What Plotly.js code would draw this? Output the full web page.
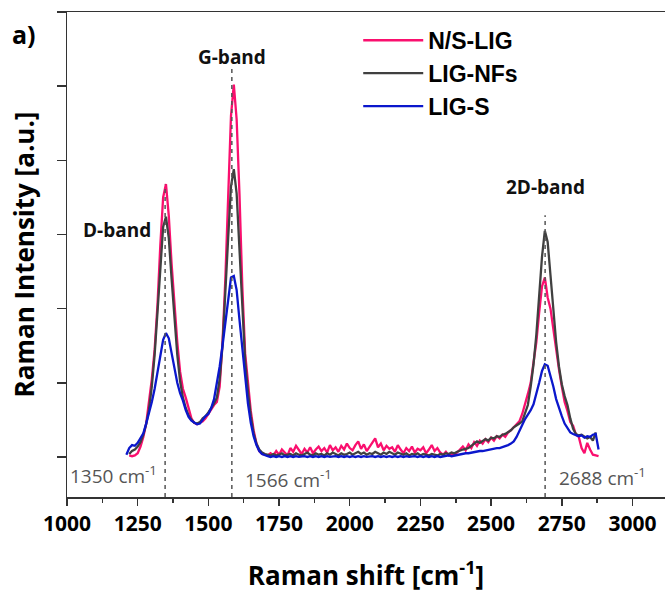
<!DOCTYPE html>
<html>
<head>
<meta charset="utf-8">
<script src="https://cdn.plot.ly/plotly-3.0.1.min.js"></script>
<style>html,body{margin:0;padding:0;background:#fff;}#chart{width:665px;height:594px;}</style>
</head>
<body>
<div id="chart"></div>
<script>
// Raman shift grid [cm-1]
const ramanShift = [
  1200,1210,1220,1230,1240,1250,1260,1270,1280,1290,
  1300,1310,1320,1330,1340,1350,1360,1370,1380,1390,
  1400,1410,1420,1430,1440,1450,1460,1470,1480,1490,
  1500,1510,1520,1530,1540,1550,1560,1570,1580,1590,
  1600,1610,1620,1630,1640,1650,1660,1670,1680,1690,
  1700,1710,1720,1730,1740,1750,1760,1770,1780,1790,
  1800,1810,1820,1830,1840,1850,1860,1870,1880,1890,
  1900,1910,1920,1930,1940,1950,1960,1970,1980,1990,
  2000,2010,2020,2030,2040,2050,2060,2070,2080,2090,
  2100,2110,2120,2130,2140,2150,2160,2170,2180,2190,
  2200,2210,2220,2230,2240,2250,2260,2270,2280,2290,
  2300,2310,2320,2330,2340,2350,2360,2370,2380,2390,
  2400,2410,2420,2430,2440,2450,2460,2470,2480,2490,
  2500,2510,2520,2530,2540,2550,2560,2570,2580,2590,
  2600,2610,2620,2630,2640,2650,2660,2670,2680,2690,
  2700,2710,2720,2730,2740,2750,2760,2770,2780,2790,
  2800,2810,2820,2830,2840,2850,2860,2870,2880
];

// N/S-LIG intensity [a.u.]
const nsLIG = [
  null,null,0.02,0.01,0.02,0.05,0.14,0.27,0.45,0.72,
  1.05,1.45,2.05,2.85,3.50,3.68,3.25,2.60,2.05,1.55,
  1.15,0.92,0.80,0.64,0.52,0.46,0.44,0.46,0.48,0.52,
  0.58,0.64,0.70,0.74,0.95,1.55,2.40,3.50,4.60,5.02,
  4.55,3.55,2.30,1.40,0.95,0.62,0.36,0.18,0.08,0.04,
  0.03,0.02,0.05,0.02,0.08,0.03,0.10,0.06,0.02,0.12,
  0.07,0.15,0.09,0.04,0.11,0.06,0.13,0.05,0.10,0.14,
  0.08,0.12,0.06,0.16,0.09,0.13,0.07,0.15,0.10,0.18,
  0.12,0.09,0.16,0.21,0.11,0.17,0.08,0.14,0.19,0.25,
  0.13,0.18,0.09,0.15,0.11,0.13,0.07,0.16,0.10,0.05,
  0.12,0.08,0.14,0.06,0.11,0.09,0.13,0.05,0.10,0.16,
  0.08,0.12,0.06,0.03,0.07,0.02,0.04,0.03,0.06,0.10,
  0.14,0.09,0.17,0.12,0.20,0.15,0.22,0.18,0.24,0.20,
  0.26,0.22,0.28,0.25,0.30,0.27,0.33,0.36,0.40,0.44,
  0.48,0.58,0.70,0.85,1.00,1.25,1.55,1.95,2.30,2.42,
  2.15,2.00,1.70,1.45,1.18,0.95,0.74,0.62,0.47,0.42,
  0.30,0.27,0.12,0.05,0.19,0.10,0.03,0.02,0.01
];

// LIG-NFs intensity [a.u.]
const ligNFs = [
  null,null,0.04,0.08,0.10,0.14,0.20,0.30,0.44,0.64,
  0.95,1.38,1.95,2.60,3.10,3.24,2.95,2.40,1.85,1.38,
  1.02,0.80,0.66,0.56,0.50,0.46,0.45,0.47,0.52,0.55,
  0.60,0.66,0.72,0.80,1.05,1.50,2.15,2.95,3.65,3.88,
  3.55,2.80,1.95,1.30,0.88,0.55,0.32,0.18,0.10,0.06,
  0.04,0.03,0.02,0.04,0.02,0.03,0.05,0.02,0.03,0.04,
  0.02,0.05,0.03,0.02,0.04,0.06,0.03,0.02,0.05,0.03,
  0.04,0.02,0.05,0.03,0.06,0.04,0.02,0.05,0.03,0.04,
  0.06,0.03,0.05,0.07,0.04,0.06,0.03,0.05,0.04,0.07,
  0.05,0.03,0.06,0.04,0.07,0.05,0.03,0.06,0.04,0.03,
  0.05,0.02,0.04,0.03,0.05,0.02,0.04,0.03,0.02,0.04,
  0.03,0.02,0.04,0.03,0.05,0.04,0.06,0.05,0.07,0.09,
  0.10,0.11,0.12,0.15,0.18,0.21,0.19,0.22,0.24,0.22,
  0.26,0.25,0.28,0.27,0.30,0.31,0.33,0.36,0.40,0.42,
  0.45,0.48,0.58,0.70,0.95,1.25,1.65,2.15,2.70,3.05,
  2.90,2.45,1.95,1.55,1.22,0.98,0.82,0.70,0.52,0.38,
  0.31,0.29,0.30,0.27,0.25,0.27,0.22,0.33,null
];

// LIG-S intensity [a.u.]
const ligS = [
  null,0.03,0.12,0.16,0.15,0.19,0.25,0.32,0.45,0.58,
  0.74,0.92,1.14,1.38,1.58,1.67,1.60,1.40,1.18,1.00,
  0.86,0.76,0.63,0.54,0.49,0.46,0.44,0.45,0.50,0.55,
  0.58,0.66,0.78,0.98,1.22,1.50,1.82,2.18,2.42,2.44,
  2.25,1.85,1.45,1.05,0.72,0.46,0.28,0.16,0.08,0.04,
  0.02,0.01,0.00,0.01,0.00,0.01,0.00,0.01,0.00,0.01,
  0.00,0.01,0.00,0.01,0.01,0.00,0.01,0.00,0.01,0.00,
  0.01,0.00,0.01,0.00,0.01,0.01,0.00,0.01,0.00,0.01,
  0.00,0.01,0.00,0.01,0.00,0.01,0.00,0.01,0.01,0.00,
  0.01,0.00,0.01,0.00,0.01,0.00,0.01,0.00,0.01,0.00,
  0.01,0.00,0.01,0.01,0.00,0.01,0.00,0.01,0.00,0.01,
  0.00,0.01,0.00,0.01,0.01,0.02,0.01,0.02,0.03,0.03,
  0.04,0.05,0.05,0.06,0.06,0.07,0.08,0.08,0.09,0.09,
  0.10,0.11,0.12,0.12,0.13,0.15,0.16,0.18,0.21,0.27,
  0.35,0.44,0.51,0.57,0.63,0.71,0.84,1.00,1.16,1.25,
  1.23,1.10,0.95,0.78,0.65,0.55,0.45,0.38,0.33,0.31,
  0.30,0.28,0.29,0.26,0.28,0.27,0.30,0.31,0.10
];

// Band marker positions (dashed lines) and their label texts
const bandNames = ["D-band", "G-band", "2D-band"];
const bandPositions = [1347, 1583, 2691];
const bandLineTops = [3.67, 5.24, 3.26];
const bandShiftLabels = ["1350 cm<sup>-1</sup>", "1566 cm<sup>-1</sup>", "2688 cm<sup>-1</sup>"];
const bandShiftLabelX = [1003, 1622, 2733];
const bandShiftLabelY = [-0.25, -0.30, -0.27];
const bandNameX = [1177, 1583, 2691];
const bandNameY = [3.06, 5.39, 3.64];

const seriesNames = ["N/S-LIG", "LIG-NFs", "LIG-S"];
const seriesColors = ["#fa0f6e", "#404040", "#0b17cc"];
const seriesValues = [nsLIG, ligNFs, ligS];

const yBottom = -0.54, yTop = 6.0;

const traces = seriesValues.map((vals, i) => ({
  x: ramanShift, y: vals, type: "scatter", mode: "lines",
  name: seriesNames[i],
  line: {color: seriesColors[i], width: 2.3},
  connectgaps: false
}));

bandPositions.forEach((p, i) => {
  traces.push({
    x: [p, p], y: [yBottom, bandLineTops[i]], type: "scatter", mode: "lines",
    showlegend: false, hoverinfo: "skip",
    line: {color: "#555555", width: 1.5, dash: "4px,4px"}
  });
});

const annotations = [];
bandNames.forEach((n, i) => {
  annotations.push({
    x: bandNameX[i], y: bandNameY[i], xref: "x", yref: "y",
    text: n, showarrow: false, xanchor: "center", yanchor: "middle",
    font: {family: "Open Sans", size: 19, weight: "bold", color: "#111"}
  });
  annotations.push({
    x: bandShiftLabelX[i], y: bandShiftLabelY[i], xref: "x", yref: "y",
    text: bandShiftLabels[i], showarrow: false, xanchor: "left", yanchor: "middle",
    font: {family: "Open Sans", size: 19, color: "#555555"}
  });
});
annotations.push({
  x: -0.072, y: 0.955, xref: "paper", yref: "paper", text: "a)",
  showarrow: false, xanchor: "center", yanchor: "middle",
  font: {family: "Open Sans", size: 25, weight: "bold", color: "#000"}
});

const layout = {
  width: 665, height: 594,
  margin: {l: 67, r: 0, t: 12, b: 97},
  paper_bgcolor: "#ffffff", plot_bgcolor: "#ffffff",
  showlegend: true,
  legend: {
    x: 0.487, y: 0.986, xanchor: "left", yanchor: "top",
    bgcolor: "rgba(0,0,0,0)", borderwidth: 0, tracegroupgap: 0,
    itemwidth: 60,
    font: {family: "Liberation Sans", size: 23, weight: "bold", color: "#000"}
  },
  xaxis: {
    range: [1000, 3115], tick0: 1000, dtick: 250,
    showline: true, linecolor: "#333", linewidth: 1.5, mirror: true,
    ticks: "outside", ticklen: 7, tickwidth: 1.5, tickcolor: "#333",
    minor: {ticks: "outside", dtick: 125, ticklen: 4, tickwidth: 1.5, tickcolor: "#333"},
    showgrid: false, zeroline: false,
    tickfont: {family: "Open Sans", size: 21, weight: "bold", color: "#000"},
    title: {text: "Raman shift [cm<sup>-1</sup>]", standoff: 31,
      font: {family: "Open Sans", size: 26, weight: "bold", color: "#000"}}
  },
  yaxis: {
    range: [yBottom, yTop], tick0: 0, dtick: 1,
    showline: true, linecolor: "#333", linewidth: 1.5,
    ticks: "outside", ticklen: 9, tickwidth: 1.5, tickcolor: "#333",
    showticklabels: false, showgrid: false, zeroline: false,
    title: {text: "Raman Intensity [a.u.]", standoff: 14,
      font: {family: "Open Sans", size: 26, weight: "bold", color: "#000"}}
  },
  annotations: annotations
};

Plotly.newPlot("chart", traces, layout, {displayModeBar: false, staticPlot: true});
</script>
</body>
</html>
